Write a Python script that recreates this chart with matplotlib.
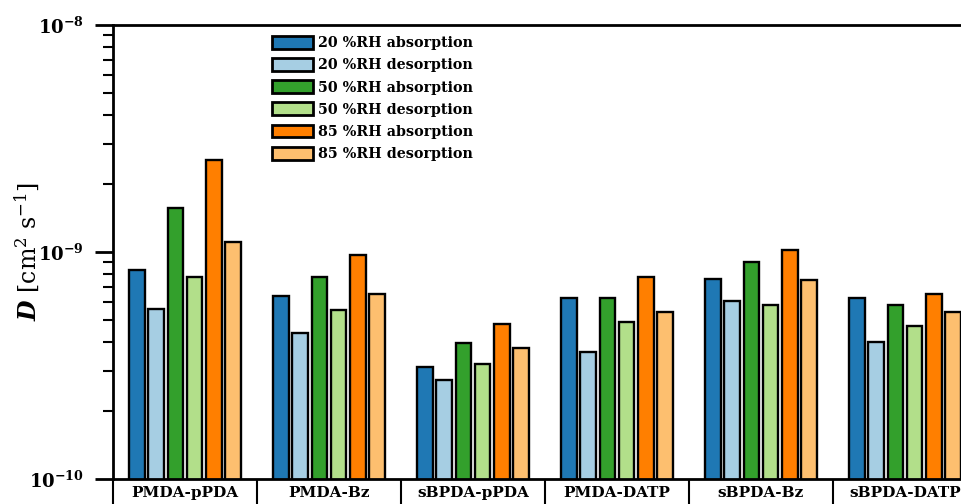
import numpy as np
import matplotlib
matplotlib.use("Agg")
import matplotlib.pyplot as plt
from matplotlib.ticker import FixedLocator, FuncFormatter, LogLocator, NullFormatter

plt.rcParams['font.family'] = ['DejaVu Serif']
plt.rcParams['mathtext.fontset'] = 'dejavuserif'

categories = ["PMDA-pPDA", "PMDA-Bz", "sBPDA-pPDA", "PMDA-DATP", "sBPDA-Bz", "sBPDA-DATP"]
series_labels = ["20 %RH absorption", "20 %RH desorption", "50 %RH absorption",
                 "50 %RH desorption", "85 %RH absorption", "85 %RH desorption"]
rh20_abs = [8.3e-10, 6.4e-10, 3.12e-10, 6.3e-10, 7.6e-10, 6.27e-10]
rh20_des = [5.6e-10, 4.4e-10, 2.73e-10, 3.63e-10, 6.1e-10, 4.03e-10]
rh50_abs = [1.56e-9, 7.76e-10, 3.98e-10, 6.27e-10, 9.0e-10, 5.84e-10]
rh50_des = [7.76e-10, 5.55e-10, 3.21e-10, 4.93e-10, 5.84e-10, 4.72e-10]
rh85_abs = [2.54e-9, 9.7e-10, 4.82e-10, 7.76e-10, 1.02e-9, 6.53e-10]
rh85_des = [1.11e-9, 6.5e-10, 3.78e-10, 5.46e-10, 7.5e-10, 5.46e-10]
series = [rh20_abs, rh20_des, rh50_abs, rh50_des, rh85_abs, rh85_des]
colors = ["#1f78b4", "#a6cee3", "#33a02c", "#b2df8a", "#ff7f00", "#fdbf6f"]
y_ticks = [1e-10, 1e-9, 1e-8]

fig = plt.figure(figsize=(9.62, 5.04), dpi=100)
ax = fig.add_axes([113/962, 1-479/504, 864/962, 454/504])

x = np.arange(len(categories))
bw = 0.111
step = 0.132
for i, (vals, c, lab) in enumerate(zip(series, colors, series_labels)):
    off = (i - 2.5) * step
    ax.bar(x + off, vals, width=bw, color=c, edgecolor='black', linewidth=1.7,
           label=lab, zorder=2)

ax.set_yscale('log')
ax.set_ylim(1e-10, 1e-8)
ax.set_xlim(-0.5, len(categories) - 0.5)

ax.yaxis.set_major_locator(FixedLocator(y_ticks))
def fmt(v, pos):
    e = int(round(np.log10(v)))
    return r'$\mathbf{10^{%d}}$' % e
ax.yaxis.set_major_formatter(FuncFormatter(fmt))
ax.yaxis.set_minor_locator(LogLocator(base=10, subs=np.arange(2, 10)))
ax.yaxis.set_minor_formatter(NullFormatter())
ax.tick_params(axis='y', which='major', direction='out', length=13, width=2, labelsize=13, pad=8)
ax.tick_params(axis='y', which='minor', direction='out', length=7, width=1.5)

ax.set_xticks(x)
ax.set_xticklabels(categories, fontweight='bold', fontsize=11)
ax.set_xticks(np.arange(-0.5, len(categories)), minor=True)
ax.tick_params(axis='x', which='major', length=0, pad=5)
ax.tick_params(axis='x', which='minor', direction='out', length=30, width=1.5)

for s in ['left', 'top', 'bottom']:
    ax.spines[s].set_linewidth(2)
ax.spines['right'].set_visible(False)

ax.set_ylabel(r'$\mathbfit{D}$ [cm$^2$ s$^{-1}$]', fontsize=17)
ax.yaxis.set_label_coords(-0.083, 0.5)

leg = ax.legend(loc='upper left', bbox_to_anchor=(0.184, 0.976), frameon=False,
                prop={'weight': 'bold', 'size': 10.3}, handlelength=2.9, handleheight=1.0,
                handletextpad=0.35, labelspacing=0.55, borderpad=0, borderaxespad=0)
for h in leg.legend_handles:
    h.set_linewidth(2)

fig.savefig('out.png', dpi=100)
